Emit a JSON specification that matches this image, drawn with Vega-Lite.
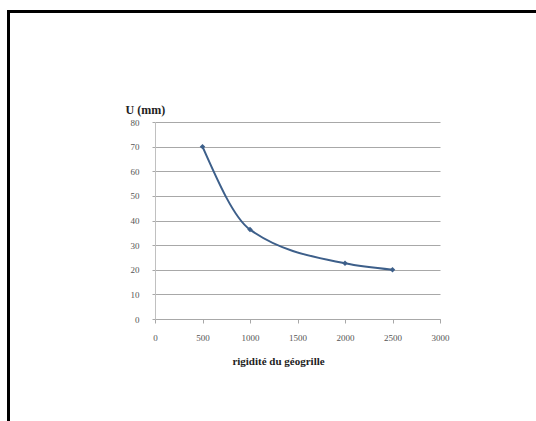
{
  "$schema": "https://vega.github.io/schema/vega-lite/v6.json",
  "padding": {"left": 7, "top": 10, "right": 0, "bottom": 0},
  "background": "white",
  "config": {"view": {"stroke": null}},
  "bounds": "flush",
  "spacing": 0,
  "hconcat": [
    {
      "data": {"values": []},
      "mark": "point",
      "width": 3,
      "height": 411,
      "view": {"fill": "black", "stroke": null}
    },
    {
      "bounds": "flush",
      "spacing": 109,
      "vconcat": [
        {
          "data": {"values": []},
          "mark": "point",
          "width": 526,
          "height": 3,
          "view": {"fill": "black", "stroke": null}
        },
        {
          "bounds": "flush",
          "spacing": 0,
          "hconcat": [
            {
              "data": {"values": []},
              "mark": "point",
              "width": 145,
              "height": 197
            },
            {
              "data": {"values": [
                {"rigidite": 500, "U": 70},
                {"rigidite": 1000, "U": 36.3},
                {"rigidite": 2000, "U": 22.6},
                {"rigidite": 2500, "U": 20}
              ]},
              "width": 285,
              "height": 197,
              "encoding": {
                "x": {
                  "field": "rigidite",
                  "type": "quantitative",
                  "scale": {"domain": [0, 3000], "nice": false},
                  "axis": {
                    "values": [0, 500, 1000, 1500, 2000, 2500, 3000],
                    "tickCount": 20,
                    "format": "d",
                    "labelOverlap": false,
                    "labelFlush": false,
                    "grid": false,
                    "domainColor": "#a8a8a8",
                    "tickColor": "#a8a8a8",
                    "tickSize": 4,
                    "labelFont": "Liberation Serif",
                    "labelFontSize": 9,
                    "labelColor": "#555555",
                    "labelPadding": 10,
                    "title": "rigidité du géogrille",
                    "titleFont": "Liberation Serif",
                    "titleFontSize": 11,
                    "titleFontWeight": "bold",
                    "titleColor": "#222222",
                    "titleX": 123,
                    "titleY": 42,
                    "titleAlign": "center",
                    "titleBaseline": "middle"
                  }
                },
                "y": {
                  "field": "U",
                  "type": "quantitative",
                  "scale": {"domain": [0, 80], "nice": false},
                  "axis": {
                    "values": [0, 10, 20, 30, 40, 50, 60, 70, 80],
                    "tickCount": 20,
                    "labelOverlap": false,
                    "labelFlush": false,
                    "grid": true,
                    "gridColor": "#a8a8a8",
                    "gridWidth": 1,
                    "domainColor": "#c0c0c0",
                    "tickColor": "#a8a8a8",
                    "tickSize": 3,
                    "labelFont": "Liberation Serif",
                    "labelFontSize": 9,
                    "labelColor": "#555555",
                    "labelPadding": 13,
                    "title": "U (mm)",
                    "titleFont": "Liberation Serif",
                    "titleFontSize": 12,
                    "titleFontWeight": "bold",
                    "titleColor": "#222222",
                    "titleAngle": 0,
                    "titleAlign": "left",
                    "titleBaseline": "middle",
                    "titleX": -30,
                    "titleY": -13
                  }
                }
              },
              "layer": [
                {
                  "mark": {"type": "line", "interpolate": "monotone", "color": "#3d5f8a", "strokeWidth": 2}
                },
                {
                  "mark": {"type": "point", "shape": "diamond", "filled": true, "color": "#3d5f8a", "size": 30, "opacity": 1}
                }
              ]
            }
          ]
        }
      ]
    }
  ]
}
